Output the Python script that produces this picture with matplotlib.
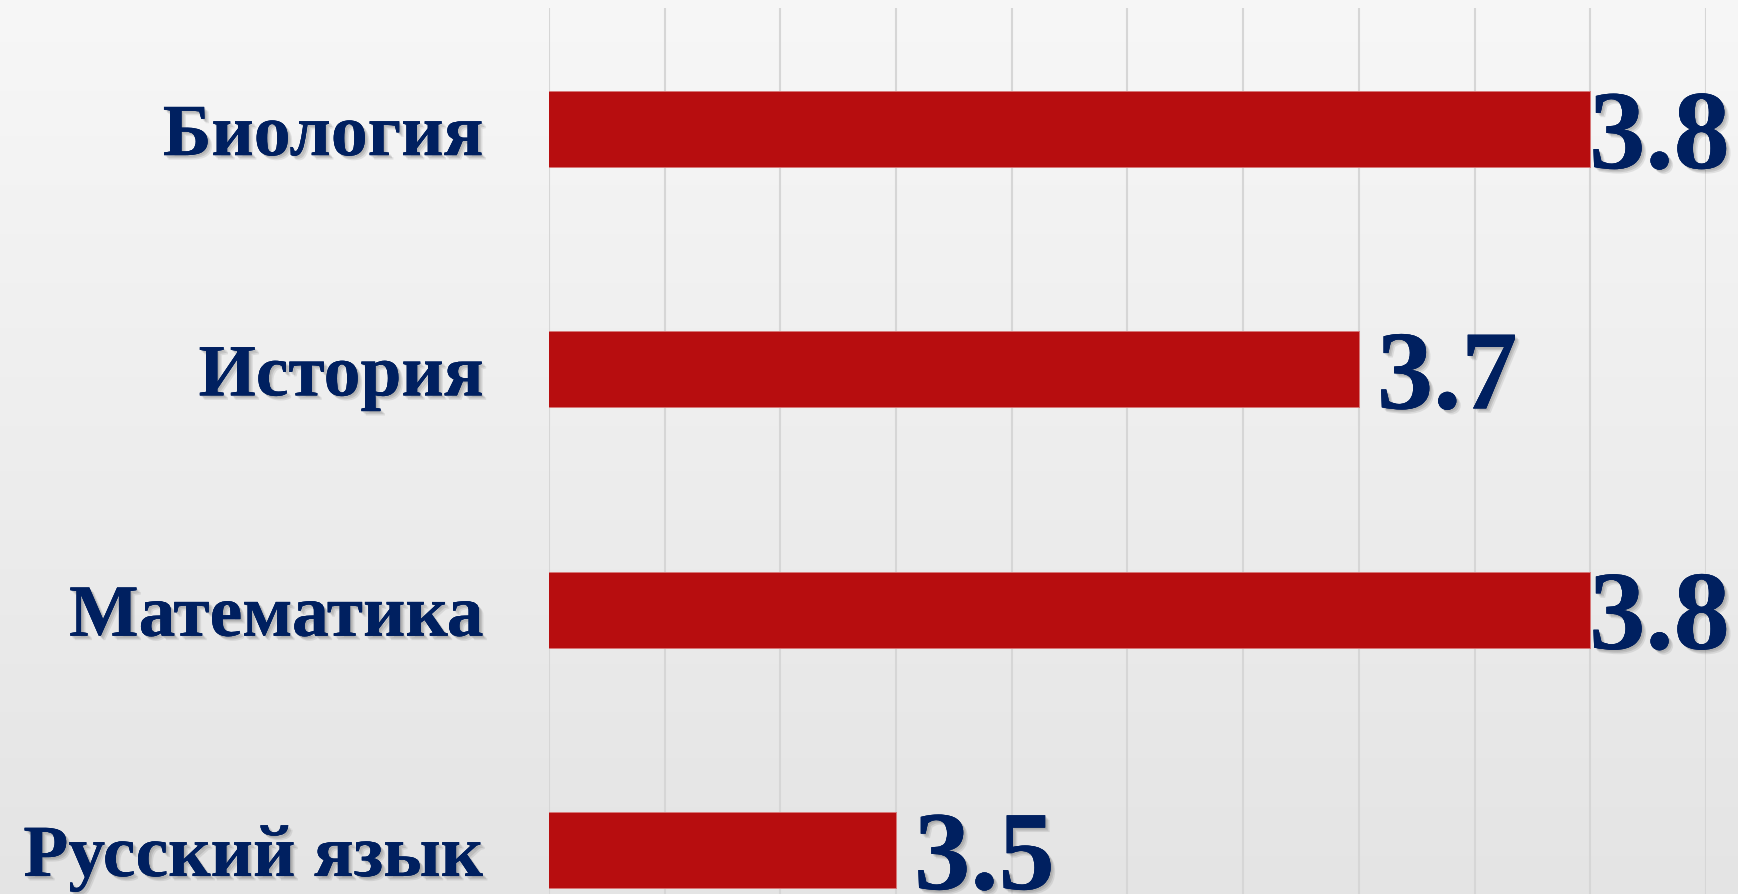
import numpy as np
import matplotlib.pyplot as plt
import matplotlib.patheffects as pe

# data (bottom to top)
subjects = ["Русский язык", "Математика", "История", "Биология"]
scores = [3.5, 3.8, 3.7, 3.8]
x_min, x_max, x_step = 3.35, 3.85, 0.05

navy = "#002060"
bar_red = "#B70D0F"

plt.rcParams["font.family"] = ["Liberation Serif", "DejaVu Serif"]

fig = plt.figure(figsize=(17.38, 8.94), dpi=100)

# light gray gradient background
bg = fig.add_axes([0, 0, 1, 1], zorder=0)
grad = np.linspace(0.968, 0.895, 256).reshape(-1, 1)
bg.imshow(np.dstack([grad, grad, grad]), aspect="auto", extent=[0, 1, 0, 1])
bg.axis("off")

ax = fig.add_axes([549 / 1738, 0, (1706 - 549) / 1738, 1 - 8 / 894], zorder=1)
ax.patch.set_alpha(0)

y = np.arange(len(subjects))
ax.barh(y, scores, height=0.316, left=0, color=bar_red,
        edgecolor="#D77878", linewidth=0.7, zorder=3)

ax.set_xlim(x_min, x_max)
ax.set_ylim(-0.183, len(subjects) - 1 + 0.504)
ax.set_xticks(np.arange(x_min, x_max + 1e-9, x_step))
ax.grid(axis="x", color="#D6D6D6", linewidth=1.5, zorder=0)
for s in ax.spines.values():
    s.set_visible(False)
ax.tick_params(axis="x", length=0, labelbottom=False)
ax.tick_params(axis="y", length=0, pad=47)

# soft drop shadow: a few faint layers
shadow = [pe.withSimplePatchShadow(offset=(d, -d), shadow_rgbFace="#333333", alpha=0.13)
          for d in (1.2, 2.2, 3.2)][:-1] + [pe.SimplePatchShadow(offset=(3.2, -3.2), shadow_rgbFace="#333333", alpha=0.1), pe.Normal()]

ax.set_yticks(y)
ax.set_yticklabels(subjects, fontsize=53, fontweight="bold", color=navy,
                   va="center_baseline", path_effects=shadow)

# value labels right of bars, kept inside the figure
fig.canvas.draw()
renderer = fig.canvas.get_renderer()
for yi, v in zip(y, scores):
    t = ax.annotate(f"{v:.1f}", xy=(v, yi), xytext=(13, 0), textcoords="offset points",
                    fontsize=81, fontweight="bold", color=navy, ha="left",
                    va="center_baseline", path_effects=shadow, annotation_clip=False)
    bb = t.get_window_extent(renderer)
    limit = fig.bbox.width - 8
    if bb.x1 > limit:
        t.set_position((13 - (bb.x1 - limit) * 72 / fig.dpi, 0))

fig.savefig("out.png", dpi=100)
